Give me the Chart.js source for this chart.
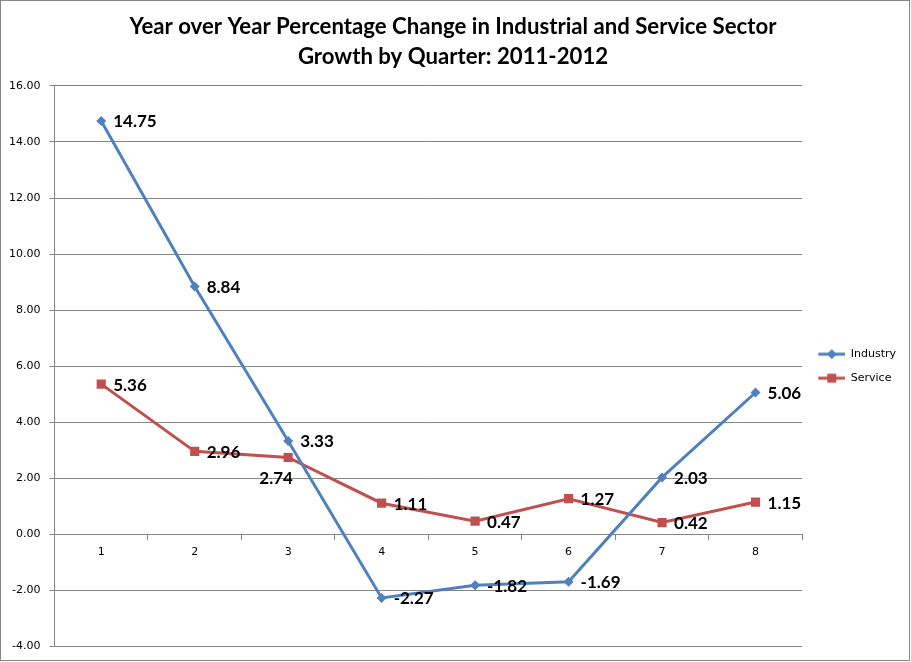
<!DOCTYPE html>
<html>
<head>
<meta charset="utf-8">
<script src="https://cdn.jsdelivr.net/npm/chart.js@4.4.0/dist/chart.umd.min.js"></script>
<style>
html, body { margin: 0; padding: 0; background: #fff; }
</style>
</head>
<body>
<canvas id="chartCanvas" width="911" height="662"></canvas>
<script>
// values
const quarters = ['1', '2', '3', '4', '5', '6', '7', '8'];
const industry = [14.75, 8.84, 3.33, -2.27, -1.82, -1.69, 2.03, 5.06];
const service = [5.36, 2.96, 2.74, 1.11, 0.47, 1.27, 0.42, 1.15];
const seriesNames = ['Industry', 'Service'];
const yMin = -4;
const yMax = 16;
const yStep = 2;
const titleLines = ['Year over Year Percentage Change in Industrial and Service Sector', 'Growth by Quarter: 2011-2012'];

const blue = '#4F81BD';
const red = '#C0504D';
const gridGray = '#868686';

// label for Service q3 sits below-left of its point
const labelTweaks = { '1-2': { dx: -12, dy: 21, align: 'center' } };

function legendMarker(color, shape) {
    const c = document.createElement('canvas');
    c.width = 30;
    c.height = 14;
    const ctx = c.getContext('2d');
    ctx.strokeStyle = color;
    ctx.lineWidth = 3;
    ctx.beginPath();
    ctx.moveTo(3, 7);
    ctx.lineTo(30, 7);
    ctx.stroke();
    ctx.fillStyle = color;
    if (shape === 'diamond') {
        ctx.beginPath();
        ctx.moveTo(16.5, 2);
        ctx.lineTo(21.5, 7);
        ctx.lineTo(16.5, 12);
        ctx.lineTo(11.5, 7);
        ctx.closePath();
        ctx.fill();
    } else {
        ctx.fillRect(12, 2.5, 9, 9);
    }
    return c;
}
const markers = [legendMarker(blue, 'diamond'), legendMarker(red, 'square')];

const frame = {
    id: 'frame',
    beforeDraw(chart) {
        const ctx = chart.ctx;
        ctx.save();
        ctx.fillStyle = '#fff';
        ctx.fillRect(0, 0, chart.width, chart.height);
        ctx.strokeStyle = gridGray;
        ctx.lineWidth = 1;
        ctx.strokeRect(0.5, 0.5, chart.width - 2, chart.height - 2);
        ctx.restore();
    }
};

const pointLabels = {
    id: 'pointLabels',
    afterDatasetsDraw(chart) {
        const ctx = chart.ctx;
        ctx.save();
        ctx.font = 'bold 17px Lato';
        ctx.fillStyle = '#000';
        ctx.textBaseline = 'middle';
        chart.data.datasets.forEach((ds, di) => {
            chart.getDatasetMeta(di).data.forEach((pt, i) => {
                const tw = labelTweaks[di + '-' + i];
                ctx.textAlign = tw ? tw.align : 'left';
                ctx.fillText(ds.data[i].toFixed(2), pt.x + (tw ? tw.dx : 12), pt.y + (tw ? tw.dy : 1));
            });
        });
        ctx.restore();
    }
};

const tickFont = { family: 'DejaVu Sans', size: 11 };

new Chart(document.getElementById('chartCanvas'), {
    type: 'line',
    data: {
        labels: quarters,
        datasets: [
            {
                label: seriesNames[0],
                data: industry,
                borderColor: blue,
                backgroundColor: blue,
                borderWidth: 3,
                pointStyle: 'rectRot',
                pointRadius: 5,
                pointBorderWidth: 0,
                tension: 0
            },
            {
                label: seriesNames[1],
                data: service,
                borderColor: red,
                backgroundColor: red,
                borderWidth: 3,
                pointStyle: 'rect',
                pointRadius: 6.5,
                pointBorderWidth: 0,
                tension: 0
            }
        ]
    },
    options: {
        responsive: false,
        animation: false,
        layout: { padding: { left: 0, right: 5, top: 0, bottom: 10 } },
        plugins: {
            title: {
                display: true,
                text: titleLines,
                color: '#000',
                font: { family: 'Lato', size: 22.2, weight: 'bold', lineHeight: 1.35 },
                padding: { top: 12, bottom: 14 }
            },
            legend: {
                position: 'right',
                fullSize: false,
                labels: {
                    usePointStyle: true,
                    pointStyleWidth: 30,
                    padding: 13,
                    color: '#000',
                    font: tickFont,
                    generateLabels: (chart) => chart.data.datasets.map((ds, i) => ({
                        text: ds.label,
                        pointStyle: markers[i],
                        fillStyle: ds.borderColor,
                        strokeStyle: ds.borderColor,
                        lineWidth: 0,
                        hidden: false,
                        datasetIndex: i,
                        fontColor: '#000'
                    }))
                }
            },
            tooltip: { enabled: false }
        },
        scales: {
            x: {
                position: { y: 0 },
                offset: true,
                grid: { display: true, drawOnChartArea: false, drawTicks: true, tickLength: 5, color: gridGray, offset: true },
                border: { display: true, color: gridGray },
                ticks: { font: tickFont, color: '#000', padding: 6, maxRotation: 0 },
                afterFit: (scale) => { scale.height = 0; }
            },
            y: {
                min: yMin,
                max: yMax,
                ticks: { stepSize: yStep, font: tickFont, color: '#000', padding: 9, callback: (v) => v.toFixed(2) },
                grid: { color: gridGray, tickLength: 5 },
                border: { color: gridGray }
            }
        }
    },
    plugins: [frame, pointLabels]
});
</script>
</body>
</html>
